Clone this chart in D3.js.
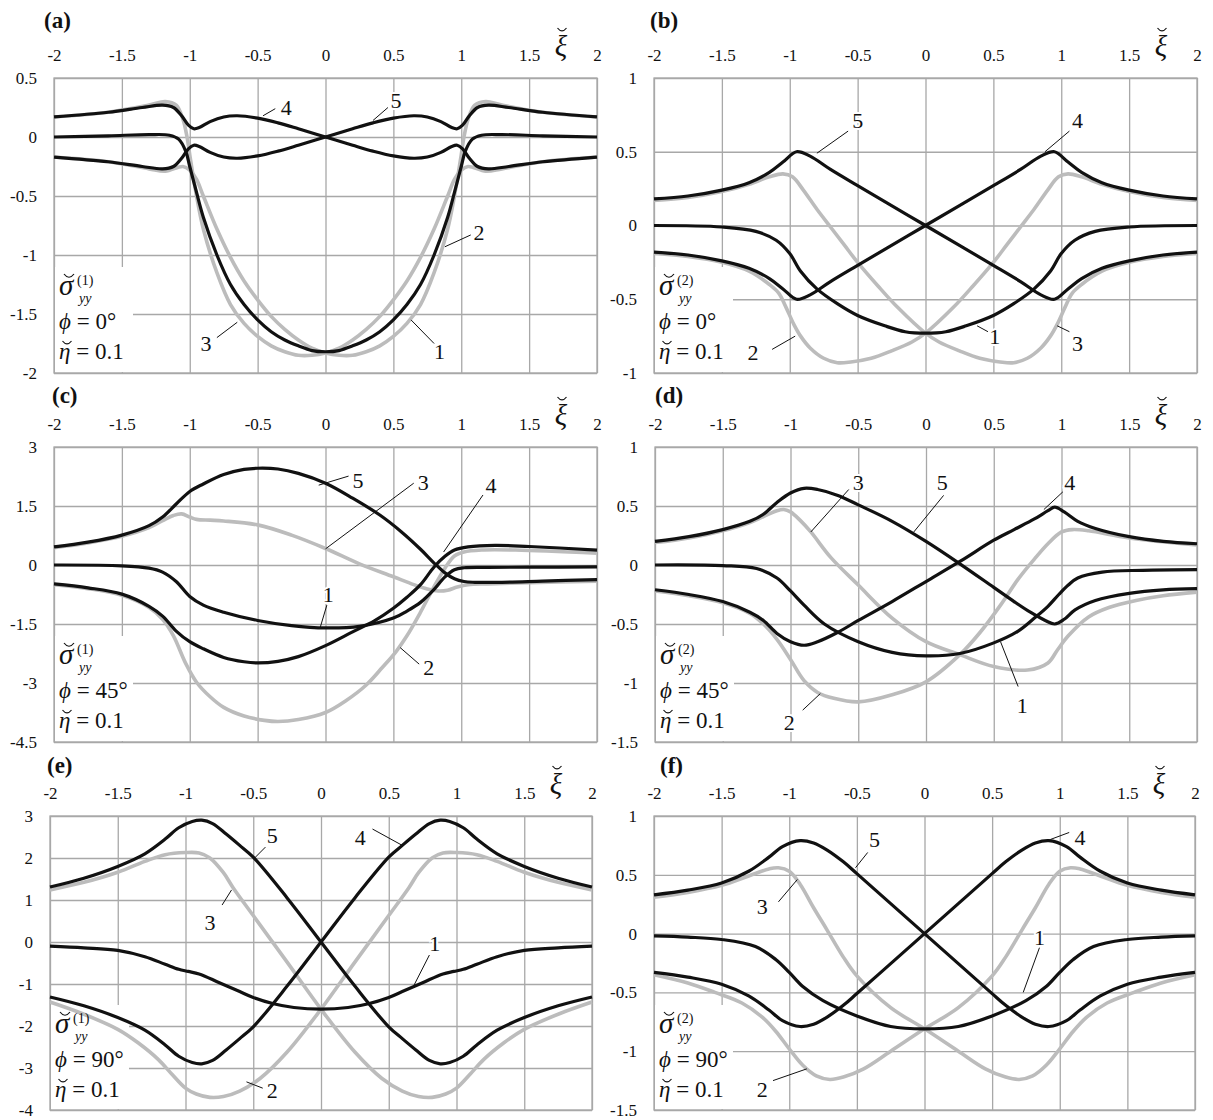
<!DOCTYPE html>
<html>
<head>
<meta charset="utf-8">
<script src="https://d3js.org/d3.v7.min.js"></script>
<style>
body { margin: 0; background: #fff; }
svg text { font-family: "Liberation Serif", "Times New Roman", serif; fill: #111; }
</style>
</head>
<body>
<svg id="fig" width="1213" height="1120"></svg>
<script>
// ---- tick values ----
var xTicks = [-2, -1.5, -1, -0.5, 0, 0.5, 1, 1.5, 2];
var yTicksA = [0.5, 0, -0.5, -1, -1.5, -2];
var yTicksB = [1, 0.5, 0, -0.5, -1];
var yTicksC = [3, 1.5, 0, -1.5, -3, -4.5];
var yTicksD = [1, 0.5, 0, -0.5, -1, -1.5];
var yTicksE = [3, 2, 1, 0, -1, -2, -3, -4];
var yTicksF = [1, 0.5, 0, -0.5, -1, -1.5];

// ---- panel (a): sigma(1), phi = 0 ----
var a1 = [[-2,0],[-1.6,0.01],[-1.3,0.02],[-1.15,0.015],[-1.08,-0.02],[-1.03,-0.12],[-1.0,-0.25],[-0.95,-0.47],[-0.9,-0.68],[-0.8,-1.0],[-0.7,-1.25],[-0.6,-1.42],[-0.5,-1.55],[-0.4,-1.65],[-0.3,-1.72],[-0.2,-1.77],[-0.1,-1.81],[0,-1.82],[0.1,-1.81],[0.2,-1.77],[0.3,-1.72],[0.4,-1.65],[0.5,-1.55],[0.6,-1.42],[0.7,-1.25],[0.8,-1.0],[0.9,-0.68],[0.95,-0.47],[1.0,-0.25],[1.03,-0.12],[1.08,-0.02],[1.15,0.015],[1.3,0.02],[1.6,0.01],[2,0]];
var a2 = [[-2,-0.17],[-1.6,-0.21],[-1.3,-0.27],[-1.18,-0.29],[-1.05,-0.25],[-1.0,-0.28],[-0.95,-0.36],[-0.9,-0.5],[-0.8,-0.78],[-0.7,-1.02],[-0.6,-1.22],[-0.5,-1.38],[-0.4,-1.52],[-0.3,-1.63],[-0.2,-1.72],[-0.1,-1.79],[0,-1.83],[0.1,-1.85],[0.2,-1.85],[0.3,-1.82],[0.4,-1.77],[0.5,-1.69],[0.6,-1.58],[0.7,-1.42],[0.8,-1.15],[0.9,-0.78],[0.95,-0.5],[1.0,-0.15],[1.02,0.0],[1.05,0.15],[1.1,0.27],[1.18,0.3],[1.3,0.27],[1.6,0.21],[2,0.17]];
var a3 = [[-2,0.17],[-1.6,0.21],[-1.3,0.27],[-1.18,0.3],[-1.1,0.27],[-1.05,0.15],[-1.02,0.0],[-1.0,-0.15],[-0.95,-0.5],[-0.9,-0.78],[-0.8,-1.15],[-0.7,-1.42],[-0.6,-1.58],[-0.5,-1.69],[-0.4,-1.77],[-0.3,-1.82],[-0.2,-1.85],[-0.1,-1.85],[0,-1.83],[0.1,-1.79],[0.2,-1.72],[0.3,-1.63],[0.4,-1.52],[0.5,-1.38],[0.6,-1.22],[0.7,-1.02],[0.8,-0.78],[0.9,-0.5],[0.95,-0.36],[1.0,-0.28],[1.05,-0.25],[1.18,-0.29],[1.3,-0.27],[1.6,-0.21],[2,-0.17]];
var a4 = [[-2,0.17],[-1.6,0.21],[-1.35,0.25],[-1.2,0.27],[-1.12,0.25],[-1.06,0.18],[-1.01,0.1],[-0.97,0.07],[-0.93,0.08],[-0.85,0.13],[-0.75,0.17],[-0.65,0.18],[-0.5,0.16],[-0.35,0.12],[-0.2,0.07],[0,0],[0.2,-0.07],[0.35,-0.12],[0.5,-0.16],[0.65,-0.18],[0.75,-0.17],[0.85,-0.13],[0.93,-0.08],[0.97,-0.07],[1.01,-0.1],[1.06,-0.18],[1.12,-0.25],[1.2,-0.27],[1.35,-0.25],[1.6,-0.21],[2,-0.17]];
var a5 = [[-2,-0.17],[-1.6,-0.21],[-1.35,-0.25],[-1.2,-0.27],[-1.12,-0.25],[-1.06,-0.18],[-1.01,-0.1],[-0.97,-0.07],[-0.93,-0.08],[-0.85,-0.13],[-0.75,-0.17],[-0.65,-0.18],[-0.5,-0.16],[-0.35,-0.12],[-0.2,-0.07],[0,0],[0.2,0.07],[0.35,0.12],[0.5,0.16],[0.65,0.18],[0.75,0.17],[0.85,0.13],[0.93,0.08],[0.97,0.07],[1.01,0.1],[1.06,0.18],[1.12,0.25],[1.2,0.27],[1.35,0.25],[1.6,0.21],[2,0.17]];
// label, text x, text y, leader from x, y, to x, y (data units)
var labelsA = [["4",-0.29,0.25,-0.46,0.18,-0.37,0.24],["5",0.52,0.31,0.35,0.14,0.46,0.25],["3",-0.88,-1.75,-0.65,-1.57,-0.8,-1.7],["2",1.13,-0.81,0.88,-0.93,1.07,-0.83],["1",0.84,-1.82,0.63,-1.55,0.8,-1.75]];

// ---- panel (b): sigma(2), phi = 0 ----
var b1 = [[-2,0],[-1.5,-0.01],[-1.25,-0.04],[-1.1,-0.1],[-1.0,-0.19],[-0.92,-0.31],[-0.8,-0.43],[-0.65,-0.53],[-0.5,-0.61],[-0.3,-0.68],[-0.15,-0.72],[0,-0.73],[0.15,-0.72],[0.3,-0.68],[0.5,-0.61],[0.65,-0.53],[0.8,-0.43],[0.92,-0.31],[1.0,-0.19],[1.1,-0.1],[1.25,-0.04],[1.5,-0.01],[2,0]];
var b2 = [[-2,-0.19],[-1.75,-0.21],[-1.5,-0.25],[-1.3,-0.31],[-1.15,-0.4],[-1.08,-0.46],[-1.03,-0.55],[-0.97,-0.67],[-0.92,-0.75],[-0.85,-0.83],[-0.75,-0.9],[-0.65,-0.93],[-0.55,-0.925],[-0.4,-0.9],[-0.25,-0.85],[-0.1,-0.79],[0,-0.73],[0.2,-0.56],[0.35,-0.41],[0.5,-0.25],[0.6,-0.13],[0.7,-0.01],[0.8,0.11],[0.9,0.24],[0.98,0.33],[1.05,0.35],[1.15,0.33],[1.3,0.28],[1.5,0.23],[1.75,0.19],[2,0.17]];
var b3 = [[-2,0.17],[-1.75,0.19],[-1.5,0.23],[-1.3,0.28],[-1.15,0.33],[-1.05,0.35],[-0.98,0.33],[-0.9,0.24],[-0.8,0.11],[-0.7,-0.01],[-0.6,-0.13],[-0.5,-0.25],[-0.35,-0.41],[-0.2,-0.56],[0,-0.73],[0.1,-0.79],[0.25,-0.85],[0.4,-0.9],[0.55,-0.925],[0.65,-0.93],[0.75,-0.9],[0.85,-0.83],[0.92,-0.75],[0.97,-0.67],[1.03,-0.55],[1.08,-0.46],[1.15,-0.4],[1.3,-0.31],[1.5,-0.25],[1.75,-0.21],[2,-0.19]];
var b4 = [[-2,-0.18],[-1.75,-0.2],[-1.5,-0.24],[-1.3,-0.29],[-1.15,-0.36],[-1.05,-0.43],[-0.95,-0.5],[-0.85,-0.47],[-0.7,-0.38],[-0.5,-0.27],[-0.25,-0.135],[0,0],[0.25,0.135],[0.5,0.27],[0.7,0.38],[0.85,0.47],[0.95,0.5],[1.05,0.43],[1.15,0.36],[1.3,0.29],[1.5,0.24],[1.75,0.2],[2,0.18]];
var b5 = [[-2,0.18],[-1.75,0.2],[-1.5,0.24],[-1.3,0.29],[-1.15,0.36],[-1.05,0.43],[-0.95,0.5],[-0.85,0.47],[-0.7,0.38],[-0.5,0.27],[-0.25,0.135],[0,0],[0.25,-0.135],[0.5,-0.27],[0.7,-0.38],[0.85,-0.47],[0.95,-0.5],[1.05,-0.43],[1.15,-0.36],[1.3,-0.29],[1.5,-0.24],[1.75,-0.2],[2,-0.18]];
var labelsB = [["5",-0.5,0.71,-0.8,0.49,-0.57,0.64],["4",1.12,0.71,0.88,0.5,1.06,0.64],["1",0.51,-0.75,0.38,-0.68,0.46,-0.72],["2",-1.27,-0.86,-0.96,-0.75,-1.13,-0.84],["3",1.12,-0.8,0.97,-0.68,1.06,-0.72]];

// ---- panel (c): sigma(1), phi = 45 ----
var c1 = [[-2,0],[-1.5,-0.02],[-1.3,-0.08],[-1.2,-0.18],[-1.1,-0.42],[-1.0,-0.8],[-0.9,-1.02],[-0.75,-1.2],[-0.5,-1.41],[-0.25,-1.54],[0,-1.6],[0.25,-1.56],[0.5,-1.35],[0.6,-1.17],[0.7,-0.95],[0.8,-0.62],[0.88,-0.3],[0.95,-0.12],[1.02,-0.07],[1.2,-0.06],[1.5,-0.055],[2,-0.05]];
var c2 = [[-2,-0.5],[-1.75,-0.6],[-1.5,-0.77],[-1.3,-1.08],[-1.2,-1.38],[-1.12,-1.8],[-1.03,-2.5],[-0.95,-2.98],[-0.85,-3.35],[-0.75,-3.62],[-0.6,-3.84],[-0.45,-3.95],[-0.35,-3.98],[-0.2,-3.93],[0,-3.75],[0.15,-3.45],[0.3,-3.05],[0.42,-2.6],[0.52,-2.2],[0.6,-1.8],[0.7,-1.2],[0.8,-0.55],[0.88,-0.08],[0.95,0.23],[1.02,0.33],[1.15,0.38],[1.4,0.38],[2,0.3]];
var c3 = [[-2,0.44],[-1.75,0.56],[-1.5,0.73],[-1.3,0.95],[-1.2,1.13],[-1.12,1.26],[-1.06,1.3],[-1.0,1.22],[-0.95,1.16],[-0.85,1.14],[-0.75,1.12],[-0.5,1.02],[-0.25,0.76],[0,0.42],[0.25,0.03],[0.5,-0.3],[0.65,-0.5],[0.75,-0.61],[0.83,-0.66],[0.9,-0.64],[0.97,-0.56],[1.05,-0.5],[1.2,-0.48],[1.5,-0.45],[2,-0.41]];
var c4 = [[-2,-0.48],[-1.75,-0.58],[-1.5,-0.74],[-1.3,-1.05],[-1.2,-1.3],[-1.1,-1.68],[-1.0,-1.95],[-0.9,-2.13],[-0.75,-2.35],[-0.6,-2.46],[-0.5,-2.49],[-0.35,-2.45],[-0.2,-2.33],[0,-2.05],[0.2,-1.7],[0.36,-1.42],[0.5,-1.1],[0.6,-0.82],[0.7,-0.5],[0.8,-0.05],[0.88,0.22],[0.95,0.38],[1.05,0.46],[1.25,0.5],[1.5,0.47],[2,0.38]];
var c5 = [[-2,0.46],[-1.75,0.58],[-1.5,0.76],[-1.3,1.0],[-1.2,1.22],[-1.1,1.55],[-1.0,1.87],[-0.9,2.06],[-0.75,2.3],[-0.6,2.43],[-0.5,2.46],[-0.35,2.44],[-0.2,2.33],[0,2.08],[0.2,1.7],[0.4,1.27],[0.56,0.84],[0.7,0.4],[0.8,0.05],[0.88,-0.2],[0.95,-0.35],[1.02,-0.42],[1.1,-0.44],[1.3,-0.44],[1.6,-0.41],[2,-0.37]];
var labelsC = [["5",0.24,2.16,-0.05,2.03,0.17,2.26],["3",0.72,2.11,0,0.41,0.65,2.08],["1",0.02,-0.74,-0.04,-1.6,0.01,-1.02],["4",1.22,2.03,0.87,0.33,1.16,1.78],["2",0.76,-2.59,0.55,-2.1,0.69,-2.52]];

// ---- panel (d): sigma(2), phi = 45 ----
var dd1 = [[-2,0],[-1.5,-0.005],[-1.25,-0.03],[-1.1,-0.11],[-1.0,-0.22],[-0.9,-0.34],[-0.75,-0.5],[-0.5,-0.65],[-0.25,-0.74],[0,-0.77],[0.25,-0.75],[0.5,-0.66],[0.68,-0.56],[0.8,-0.45],[0.9,-0.35],[0.98,-0.25],[1.05,-0.17],[1.12,-0.11],[1.3,-0.06],[1.6,-0.045],[2,-0.04]];
var dd2 = [[-2,-0.22],[-1.75,-0.26],[-1.5,-0.32],[-1.3,-0.41],[-1.2,-0.5],[-1.1,-0.63],[-1.0,-0.8],[-0.9,-0.98],[-0.8,-1.08],[-0.68,-1.13],[-0.5,-1.16],[-0.25,-1.1],[0,-0.99],[0.25,-0.76],[0.4,-0.57],[0.55,-0.34],[0.68,-0.12],[0.8,0.05],[0.9,0.18],[1.0,0.28],[1.08,0.3],[1.2,0.29],[1.5,0.23],[2,0.17]];
var dd3 = [[-2,0.19],[-1.75,0.23],[-1.5,0.29],[-1.3,0.36],[-1.2,0.41],[-1.1,0.46],[-1.05,0.47],[-1.0,0.45],[-0.93,0.38],[-0.85,0.28],[-0.7,0.06],[-0.5,-0.17],[-0.25,-0.45],[0,-0.65],[0.25,-0.76],[0.5,-0.86],[0.75,-0.89],[0.9,-0.83],[0.97,-0.72],[1.05,-0.6],[1.2,-0.44],[1.35,-0.36],[1.55,-0.3],[1.75,-0.26],[2,-0.23]];
var dd4 = [[-2,-0.21],[-1.75,-0.25],[-1.5,-0.31],[-1.3,-0.4],[-1.2,-0.47],[-1.1,-0.58],[-1.0,-0.65],[-0.9,-0.68],[-0.8,-0.65],[-0.65,-0.57],[-0.5,-0.47],[-0.25,-0.31],[0,-0.14],[0.25,0.03],[0.5,0.21],[0.65,0.3],[0.8,0.39],[0.9,0.46],[0.95,0.49],[1.02,0.45],[1.12,0.37],[1.25,0.31],[1.5,0.24],[1.75,0.2],[2,0.18]];
var dd5 = [[-2,0.2],[-1.75,0.24],[-1.5,0.3],[-1.3,0.37],[-1.2,0.43],[-1.1,0.53],[-1.0,0.61],[-0.9,0.65],[-0.8,0.64],[-0.65,0.59],[-0.5,0.51],[-0.25,0.37],[0,0.2],[0.25,0.01],[0.5,-0.19],[0.65,-0.31],[0.77,-0.4],[0.88,-0.47],[0.95,-0.5],[1.02,-0.46],[1.1,-0.38],[1.25,-0.3],[1.5,-0.24],[1.75,-0.21],[2,-0.2]];
var labelsD = [["3",-0.5,0.7,-0.85,0.28,-0.57,0.64],["5",0.12,0.7,-0.09,0.28,0.13,0.59],["4",1.06,0.7,0.87,0.47,1.01,0.62],["2",-1.01,-1.33,-0.78,-1.09,-0.91,-1.23],["1",0.71,-1.19,0.55,-0.65,0.68,-1.03]];

// ---- panel (e): sigma(1), phi = 90 ----
var e1 = [[-2,-0.1],[-1.75,-0.14],[-1.5,-0.2],[-1.3,-0.35],[-1.15,-0.53],[-1.05,-0.65],[-0.98,-0.7],[-0.9,-0.76],[-0.75,-0.97],[-0.6,-1.18],[-0.5,-1.32],[-0.35,-1.47],[-0.2,-1.56],[0,-1.6],[0.2,-1.56],[0.35,-1.47],[0.5,-1.32],[0.6,-1.18],[0.75,-0.97],[0.9,-0.76],[0.98,-0.7],[1.05,-0.65],[1.15,-0.53],[1.3,-0.35],[1.5,-0.2],[1.75,-0.14],[2,-0.1]];
var e2 = [[-2,-1.43],[-1.75,-1.72],[-1.5,-2.08],[-1.35,-2.4],[-1.2,-2.8],[-1.1,-3.15],[-1.0,-3.48],[-0.92,-3.62],[-0.82,-3.7],[-0.72,-3.68],[-0.6,-3.55],[-0.45,-3.25],[-0.25,-2.62],[0,-1.6],[0.25,-0.48],[0.5,0.63],[0.65,1.3],[0.72,1.65],[0.82,2.0],[0.9,2.12],[1.0,2.13],[1.15,2.08],[1.3,1.92],[1.5,1.66],[1.75,1.42],[2,1.24]];
var e3 = [[-2,1.24],[-1.75,1.42],[-1.5,1.66],[-1.3,1.92],[-1.15,2.08],[-1.0,2.13],[-0.9,2.12],[-0.82,2.0],[-0.72,1.65],[-0.65,1.3],[-0.5,0.63],[-0.25,-0.48],[0,-1.6],[0.25,-2.62],[0.45,-3.25],[0.6,-3.55],[0.72,-3.68],[0.82,-3.7],[0.92,-3.62],[1.0,-3.48],[1.1,-3.15],[1.2,-2.8],[1.35,-2.4],[1.5,-2.08],[1.75,-1.72],[2,-1.43]];
var e4 = [[-2,-1.31],[-1.75,-1.52],[-1.5,-1.8],[-1.3,-2.1],[-1.15,-2.45],[-1.05,-2.72],[-0.95,-2.87],[-0.88,-2.9],[-0.8,-2.82],[-0.7,-2.57],[-0.6,-2.3],[-0.5,-2.02],[-0.25,-1.05],[0,0],[0.25,1.05],[0.5,2.02],[0.6,2.3],[0.7,2.57],[0.8,2.82],[0.88,2.9],[0.95,2.87],[1.05,2.72],[1.15,2.45],[1.3,2.1],[1.5,1.8],[1.75,1.52],[2,1.31]];
var e5 = [[-2,1.31],[-1.75,1.52],[-1.5,1.8],[-1.3,2.1],[-1.15,2.45],[-1.05,2.72],[-0.95,2.87],[-0.88,2.9],[-0.8,2.82],[-0.7,2.57],[-0.6,2.3],[-0.5,2.02],[-0.25,1.05],[0,0],[0.25,-1.05],[0.5,-2.02],[0.6,-2.3],[0.7,-2.57],[0.8,-2.82],[0.88,-2.9],[0.95,-2.87],[1.05,-2.72],[1.15,-2.45],[1.3,-2.1],[1.5,-1.8],[1.75,-1.52],[2,-1.31]];
var labelsE = [["5",-0.36,2.55,-0.49,2.0,-0.41,2.26],["3",-0.82,0.48,-0.66,1.24,-0.73,0.88],["4",0.29,2.5,0.6,2.3,0.38,2.69],["1",0.84,-0.02,0.68,-1.07,0.8,-0.31],["2",-0.36,-3.52,-0.55,-3.33,-0.43,-3.48]];

// ---- panel (f): sigma(2), phi = 90 ----
var f1 = [[-2,-0.02],[-1.75,-0.03],[-1.5,-0.05],[-1.25,-0.11],[-1.1,-0.22],[-1.0,-0.33],[-0.9,-0.45],[-0.75,-0.57],[-0.5,-0.7],[-0.25,-0.79],[0,-0.81],[0.25,-0.79],[0.5,-0.7],[0.75,-0.57],[0.9,-0.45],[1.0,-0.33],[1.1,-0.22],[1.25,-0.11],[1.5,-0.05],[1.75,-0.03],[2,-0.02]];
var f2 = [[-2,-0.35],[-1.75,-0.42],[-1.55,-0.5],[-1.35,-0.59],[-1.2,-0.71],[-1.1,-0.83],[-1.0,-0.98],[-0.9,-1.12],[-0.8,-1.21],[-0.7,-1.24],[-0.6,-1.22],[-0.45,-1.15],[-0.25,-1.0],[0,-0.81],[0.25,-0.63],[0.5,-0.36],[0.6,-0.2],[0.72,0.03],[0.82,0.22],[0.92,0.42],[1.0,0.53],[1.08,0.56],[1.15,0.55],[1.3,0.49],[1.5,0.41],[1.75,0.35],[2,0.31]];
var f3 = [[-2,0.31],[-1.75,0.35],[-1.5,0.41],[-1.3,0.49],[-1.15,0.55],[-1.08,0.56],[-1.0,0.53],[-0.92,0.42],[-0.82,0.22],[-0.72,0.03],[-0.6,-0.2],[-0.5,-0.36],[-0.25,-0.63],[0,-0.81],[0.25,-1.0],[0.45,-1.15],[0.6,-1.22],[0.7,-1.24],[0.8,-1.21],[0.9,-1.12],[1.0,-0.98],[1.1,-0.83],[1.2,-0.71],[1.35,-0.59],[1.55,-0.5],[1.75,-0.42],[2,-0.35]];
var f4 = [[-2,-0.33],[-1.75,-0.37],[-1.5,-0.43],[-1.3,-0.53],[-1.15,-0.65],[-1.05,-0.74],[-0.92,-0.79],[-0.82,-0.77],[-0.72,-0.71],[-0.6,-0.61],[-0.5,-0.51],[-0.25,-0.255],[0,0],[0.25,0.255],[0.5,0.51],[0.6,0.61],[0.72,0.71],[0.82,0.77],[0.92,0.79],[1.05,0.74],[1.15,0.65],[1.3,0.53],[1.5,0.43],[1.75,0.37],[2,0.33]];
var f5 = [[-2,0.33],[-1.75,0.37],[-1.5,0.43],[-1.3,0.53],[-1.15,0.65],[-1.05,0.74],[-0.92,0.79],[-0.82,0.77],[-0.72,0.71],[-0.6,0.61],[-0.5,0.51],[-0.25,0.255],[0,0],[0.25,-0.255],[0.5,-0.51],[0.6,-0.61],[0.72,-0.71],[0.82,-0.77],[0.92,-0.79],[1.05,-0.74],[1.15,-0.65],[1.3,-0.53],[1.5,-0.43],[1.75,-0.37],[2,-0.33]];
var labelsF = [["5",-0.37,0.8,-0.51,0.56,-0.42,0.69],["3",-1.2,0.23,-0.94,0.46,-1.08,0.27],["2",-1.2,-1.32,-0.87,-1.15,-1.12,-1.25],["4",1.15,0.82,0.93,0.8,1.07,0.86],["1",0.85,-0.03,0.73,-0.5,0.85,-0.12]];

// ---- layout of the six panels ----
var panels = [
  {tag: "(a)", tx: 44,  ty: 28,  L: 54,  T: 78,  R: 597,  B: 373,  yTicks: yTicksA, sup: "(1)", phi: "0",  gray: [a2, a3], black: [a1, a4, a5], labels: labelsA},
  {tag: "(b)", tx: 650, ty: 28,  L: 654, T: 78,  R: 1197, B: 373,  yTicks: yTicksB, sup: "(2)", phi: "0",  gray: [b2, b3], black: [b1, b4, b5], labels: labelsB},
  {tag: "(c)", tx: 52,  ty: 403, L: 54,  T: 447, R: 597,  B: 742,  yTicks: yTicksC, sup: "(1)", phi: "45", gray: [c2, c3], black: [c1, c4, c5], labels: labelsC},
  {tag: "(d)", tx: 655, ty: 403, L: 655, T: 447, R: 1197, B: 742,  yTicks: yTicksD, sup: "(2)", phi: "45", gray: [dd2, dd3], black: [dd1, dd4, dd5], labels: labelsD},
  {tag: "(e)", tx: 47,  ty: 773, L: 50,  T: 816, R: 592,  B: 1110, yTicks: yTicksE, sup: "(1)", phi: "90", gray: [e2, e3], black: [e1, e4, e5], labels: labelsE},
  {tag: "(f)", tx: 660, ty: 773, L: 654, T: 816, R: 1195, B: 1110, yTicks: yTicksF, sup: "(2)", phi: "90", gray: [f2, f3], black: [f1, f4, f5], labels: labelsF}
];

var serif = "'Liberation Serif', 'Times New Roman', serif";
var gridColor = "#a8a8a8";
var svg = d3.select("#fig").attr("font-family", serif);

// small breve accent drawn as a path, centred at cx with its top at ty
function breve(g, cx, ty, w) {
    g.append("path")
        .attr("d", "M" + (cx - w) + "," + ty + " Q" + cx + "," + (ty + w * 1.3) + " " + (cx + w) + "," + ty)
        .attr("fill", "none").attr("stroke", "#111").attr("stroke-width", 1.2);
}

panels.forEach(function (p) {
    var x = d3.scaleLinear().domain([-2, 2]).range([p.L, p.R]);
    var y = d3.scaleLinear().domain(d3.extent(p.yTicks)).range([p.B, p.T]);
    var g = svg.append("g");

    // grid lines
    var gx = g.append("g")
        .attr("transform", "translate(0," + p.B + ")")
        .call(d3.axisBottom(x).tickValues(xTicks).tickSize(-(p.B - p.T)).tickFormat(""));
    var gy = g.append("g")
        .attr("transform", "translate(" + p.L + ",0)")
        .call(d3.axisLeft(y).tickValues(p.yTicks).tickSize(-(p.R - p.L)).tickFormat(""));
    [gx, gy].forEach(function (a) {
        a.select(".domain").remove();
        a.selectAll("line").attr("stroke", gridColor).attr("stroke-width", 1.3);
    });

    g.append("rect")
        .attr("x", p.L).attr("y", p.T)
        .attr("width", p.R - p.L).attr("height", p.B - p.T)
        .attr("fill", "none").attr("stroke", gridColor).attr("stroke-width", 1.3);

    // white box behind the annotation
    g.append("rect")
        .attr("x", p.L + 1).attr("y", p.T + 189)
        .attr("width", 78).attr("height", p.B - p.T - 190)
        .attr("fill", "#fff");

    // tick labels
    var tx = g.append("g")
        .attr("transform", "translate(0," + p.T + ")")
        .call(d3.axisTop(x).tickValues(xTicks).tickSize(0).tickPadding(17).tickFormat(function (d) { return String(d); }));
    var ty = g.append("g")
        .attr("transform", "translate(" + p.L + ",0)")
        .call(d3.axisLeft(y).tickValues(p.yTicks).tickSize(0).tickPadding(17).tickFormat(function (d) { return String(d); }));
    [tx, ty].forEach(function (a) {
        a.select(".domain").remove();
        a.attr("font-family", serif).attr("font-size", null);
        a.selectAll("text").style("font-size", "17px").attr("fill", "#111");
    });

    // xi with breve
    g.append("text").attr("x", p.R - 36).attr("y", p.T - 22)
        .attr("text-anchor", "middle").attr("font-family", serif)
        .style("font-size", "29px").style("font-style", "italic").text("ξ");
    breve(g, p.R - 35, p.T - 50, 4.5);

    // panel tag
    g.append("text").attr("x", p.tx).attr("y", p.ty).attr("font-family", serif)
        .style("font-size", "23px").style("font-weight", "bold").text(p.tag);

    // curves
    var line = d3.line()
        .x(function (d) { return x(d[0]); })
        .y(function (d) { return y(d[1]); })
        .curve(d3.curveCatmullRom.alpha(0.5));

    g.selectAll(".gray").data(p.gray).enter().append("path")
        .attr("class", "gray")
        .attr("d", line)
        .attr("fill", "none").attr("stroke", "#bcbcbc").attr("stroke-width", 3.6);
    g.selectAll(".black").data(p.black).enter().append("path")
        .attr("class", "black")
        .attr("d", line)
        .attr("fill", "none").attr("stroke", "#111").attr("stroke-width", 3.2);

    // curve labels with leader lines
    p.labels.forEach(function (l) {
        g.append("line")
            .attr("x1", x(l[3])).attr("y1", y(l[4]))
            .attr("x2", x(l[5])).attr("y2", y(l[6]))
            .attr("stroke", "#111").attr("stroke-width", 1);
        g.append("text")
            .attr("x", x(l[1])).attr("y", y(l[2]))
            .attr("text-anchor", "middle").attr("dy", "0.35em").attr("font-family", serif)
            .style("font-size", "22px")
            .style("paint-order", "stroke").attr("stroke", "#fff").attr("stroke-width", 4)
            .text(l[0]);
    });

    // annotation: sigma with breve, superscript and subscript
    var ax = p.L + 5;
    var sig = g.append("text").attr("font-family", serif);
    sig.append("tspan").attr("x", ax).attr("y", p.T + 217)
        .style("font-size", "29px").style("font-style", "italic").text("σ");
    sig.append("tspan").attr("x", ax + 18).attr("y", p.T + 207)
        .style("font-size", "14px").text(p.sup);
    sig.append("tspan").attr("x", ax + 20).attr("y", p.T + 225)
        .style("font-size", "14px").style("font-style", "italic").text("yy");
    breve(g, ax + 10, p.T + 196, 5);

    var phiT = g.append("text").attr("x", ax).attr("y", p.T + 251).attr("font-family", serif).style("font-size", "23px");
    phiT.append("tspan").style("font-style", "italic").text("ϕ");
    phiT.append("tspan").text(" = " + p.phi + "°");

    var etaT = g.append("text").attr("x", ax).attr("y", p.T + 281).attr("font-family", serif).style("font-size", "23px");
    etaT.append("tspan").style("font-style", "italic").text("η");
    etaT.append("tspan").text(" = 0.1");
    breve(g, ax + 8, p.T + 263, 4.5);
});
</script>
</body>
</html>
